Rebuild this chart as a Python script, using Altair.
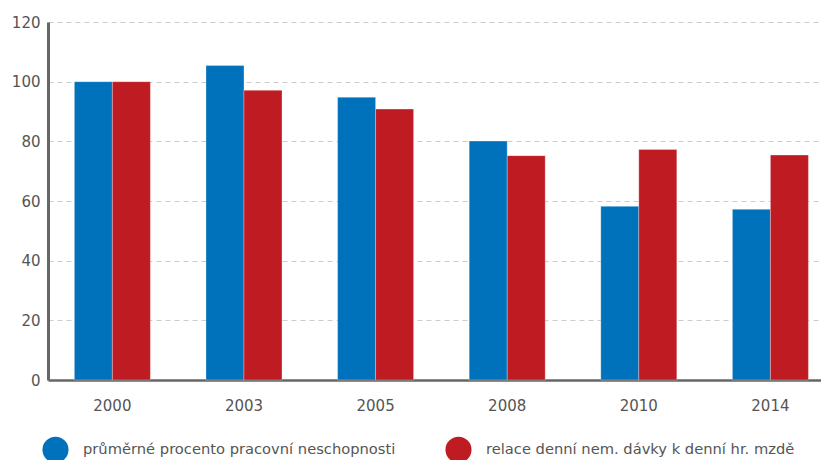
import altair as alt
import pandas as pd

years = ["2000", "2003", "2005", "2008", "2010", "2014"]
series_names = ["průměrné procento pracovní neschopnosti",
                "relace denní nem. dávky k denní  hr. mzdě"]
blue_vals = [100, 105.4, 94.8, 80.1, 58.2, 57.2]
red_vals = [100, 97.1, 90.8, 75.2, 77.3, 75.4]
colors = ["#0071BB", "#BE1B22"]

rows = []
for y, b, r in zip(years, blue_vals, red_vals):
    rows.append({"rok": y, "serie": series_names[0], "hodnota": b})
    rows.append({"rok": y, "serie": series_names[1], "hodnota": r})
df = pd.DataFrame(rows)

FONT = "DejaVu Sans"

chart = alt.Chart(df).mark_bar(stroke="white", strokeWidth=0.6, strokeOpacity=0.5).encode(
    x=alt.X("rok:N", sort=years, title=None,
            scale=alt.Scale(paddingInner=0.4225, paddingOuter=0.148, align=0.677),
            axis=alt.Axis(labelAngle=0, ticks=False, labelPadding=18, labelFontSize=15,
                          labelColor="#555555", labelFont=FONT, domainColor="#666666",
                          domainWidth=2.5, grid=False)),
    xOffset=alt.XOffset("serie:N", sort=series_names),
    y=alt.Y("hodnota:Q", title=None,
            scale=alt.Scale(domain=[0, 120], nice=False),
            axis=alt.Axis(values=[0, 20, 40, 60, 80, 100, 120], ticks=False, labelPadding=8,
                          labelFontSize=15, labelColor="#555555", labelFont=FONT,
                          domainColor="#666666", domainWidth=3, grid=True,
                          gridColor="#cccccc", gridDash=[5, 4], gridWidth=1.2)),
    color=alt.Color("serie:N", sort=series_names,
                    scale=alt.Scale(domain=series_names, range=colors),
                    legend=alt.Legend(title=None, orient="none", direction="horizontal",
                                      legendX=-6, legendY=414, symbolType="circle",
                                      symbolSize=680, symbolStrokeWidth=0, labelFontSize=14.7,
                                      labelFont=FONT, labelColor="#555555", labelLimit=400,
                                      columnPadding=49, labelOffset=14)),
).properties(
    width=773, height=358,
    autosize=alt.AutoSizeParams(type="none"),
    padding={"left": 40, "top": 14, "right": 0, "bottom": 80},
).configure_view(stroke=None)

chart.save("out.html", embed_options={"renderer": "svg", "actions": False})
